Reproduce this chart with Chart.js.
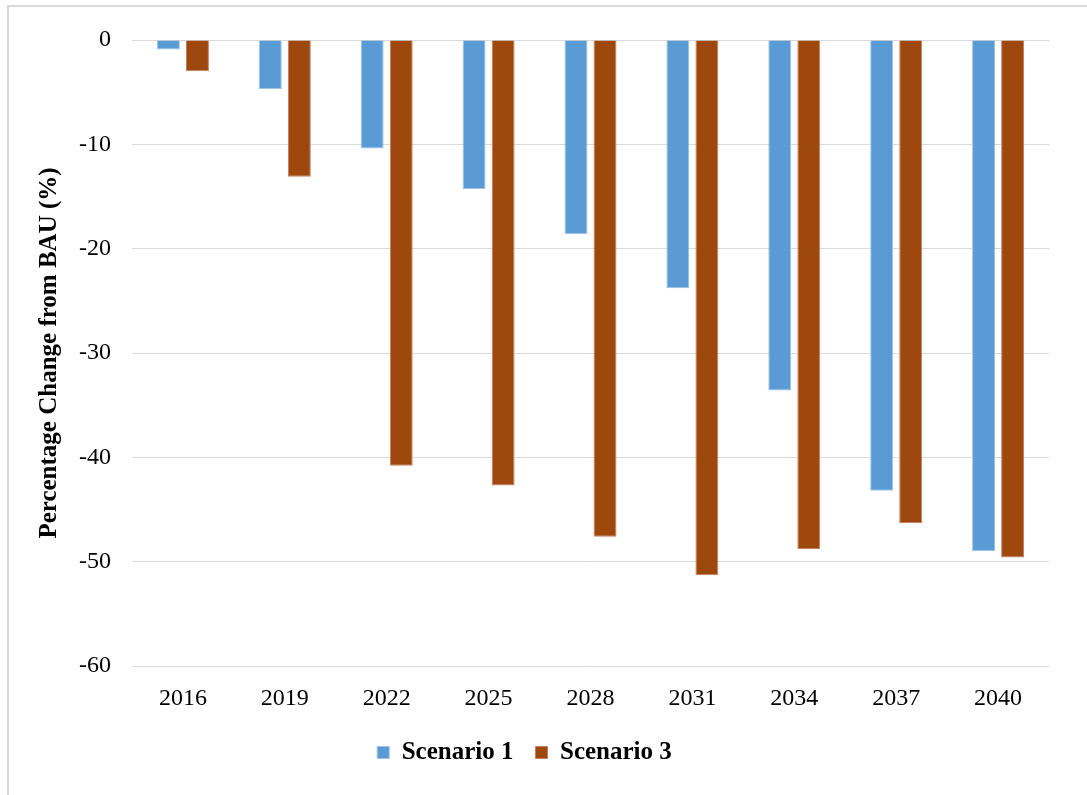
<!DOCTYPE html>
<html>
<head>
<meta charset="utf-8">
<script src="https://cdn.jsdelivr.net/npm/chart.js@4"></script>
<style>
  html, body { margin: 0; padding: 0; background: #fff; }
  #wrap { position: relative; width: 1087px; height: 795px; overflow: hidden; }
  #frame { position: absolute; left: 7px; top: 5px; width: 1200px; height: 900px;
           border-left: 2px solid #d9d9d9; border-top: 2px solid #d9d9d9; }
  #chart { position: absolute; left: 0; top: 0; }
</style>
</head>
<body>
<div id="wrap">
  <div id="frame"></div>
  <canvas id="chart" width="1087" height="795"></canvas>
</div>
<script>
const years = ["2016", "2019", "2022", "2025", "2028", "2031", "2034", "2037", "2040"];
const scenario1 = [-0.9, -4.7, -10.4, -14.3, -18.6, -23.8, -33.6, -43.2, -49.0];
const scenario3 = [-3.0, -13.1, -40.8, -42.7, -47.6, -51.3, -48.8, -46.3, -49.6];
const yTicks = [0, -10, -20, -30, -40, -50, -60];

const serif = "'Liberation Serif', 'Times New Roman', serif";

const ctx = document.getElementById("chart").getContext("2d");
new Chart(ctx, {
  type: "bar",
  data: {
    labels: years,
    datasets: [
      {
        label: "Scenario 1",
        data: scenario1,
        backgroundColor: "#5B9BD5",
        borderColor: "#9dc3e6",
        borderWidth: 1,
        borderSkipped: "start"
      },
      {
        label: "Scenario 3",
        data: scenario3,
        backgroundColor: "#9E480E",
        borderColor: "#c08060",
        borderWidth: 1,
        borderSkipped: "start"
      }
    ]
  },
  options: {
    responsive: false,
    animation: false,
    layout: { padding: { left: 0, top: 40, right: 38, bottom: 20 } },
    datasets: {
      bar: { categoryPercentage: 0.57, barPercentage: 0.79 }
    },
    scales: {
      x: {
        grid: { display: false, drawTicks: false },
        border: { display: false },
        ticks: { color: "#000", font: { family: serif, size: 24 }, padding: 18 },
        afterFit: axis => { axis.height = 52; }
      },
      y: {
        min: -60,
        max: 0,
        afterBuildTicks: axis => { axis.ticks = yTicks.map(v => ({ value: v })); },
        grid: { color: "#d9d9d9", lineWidth: 1, drawTicks: false },
        border: { display: false },
        ticks: { color: "#000", font: { family: serif, size: 24 }, padding: 21 },
        title: {
          display: true,
          text: "Percentage Change from BAU (%)",
          color: "#000",
          font: { family: serif, size: 25, weight: "bold" },
          padding: { top: 35, bottom: 0 }
        },
        afterFit: axis => { axis.width = 132; }
      }
    },
    plugins: {
      legend: {
        position: "bottom",
        labels: {
          color: "#000",
          font: { family: serif, size: 25, weight: "bold" },
          boxWidth: 12,
          boxHeight: 12,
          padding: 22
        }
      },
      tooltip: { enabled: false }
    }
  }
});
</script>
</body>
</html>
